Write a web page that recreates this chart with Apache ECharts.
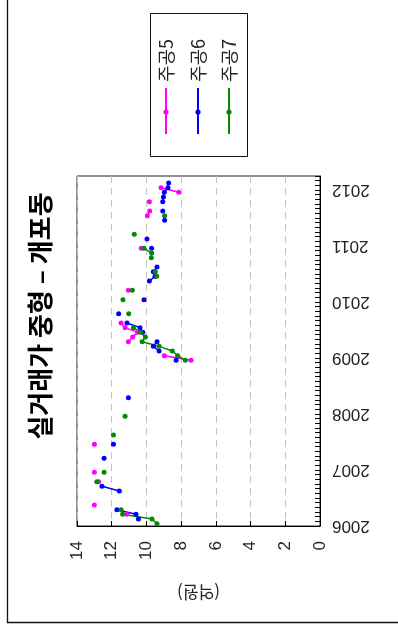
<!DOCTYPE html>
<html><head><meta charset="utf-8">
<script src="https://cdn.jsdelivr.net/npm/echarts@6/dist/echarts.min.js"></script>
<style>html,body{margin:0;padding:0;background:#fff}#c{width:398px;height:628px}</style>
</head><body><div id="c"></div>
<script>
const titleText = '실거래가 중형 – 개포동';
const valueAxisName = '(억원)';
const seriesNames = ['주공5', '주공6', '주공7'];
const seriesColors = ['#FF00FF', '#0000FF', '#008B00'];
const startYear = 2006;
const yearLabels = ['2006', '2007', '2008', '2009', '2010', '2011', '2012'];
const valueTicks = [0, 2, 4, 6, 8, 10, 12, 14];

const jugong5Months = ['2006-03','2006-05','2006-10','2006-12','2007-06','2008-12','2009-01','2009-04','2009-05','2009-06','2009-07','2009-08','2010-03','2010-06','2010-12','2011-07','2011-08','2011-10','2011-12','2012-01'];
const jugong5Values = [11.14,13.0,12.75,13.0,13.0,7.43,8.97,11.04,10.79,10.5,11.23,11.46,11.04,9.49,10.3,9.95,9.81,9.83,8.14,9.16];

const jugong6Months = ['2006-02','2006-03','2006-04','2006-08','2006-09','2007-03','2007-06','2008-04','2008-12','2009-02','2009-03','2009-04','2009-06','2009-07','2009-08','2009-10','2010-01','2010-05','2010-06','2010-07','2010-08','2010-12','2011-02','2011-06','2011-08','2011-10','2011-11','2011-12','2012-01','2012-02'];
const jugong6Values = [10.46,10.6,11.7,11.56,12.56,12.44,11.9,11.04,8.29,9.27,9.6,9.39,10.21,10.37,11.12,11.6,10.14,9.83,9.5,9.6,9.39,9.7,9.97,8.95,9.06,9.06,9.02,8.97,8.76,8.72];

const jugong7Months = ['2006-01','2006-02','2006-03','2006-04','2006-10','2006-12','2007-08','2007-12','2008-12','2009-01','2009-02','2009-03','2009-04','2009-05','2009-06','2009-07','2009-10','2010-01','2010-03','2010-06','2010-07','2010-10','2010-11','2010-12','2011-03','2011-07'];
const jugong7Values = [9.39,9.68,11.37,11.46,12.86,12.44,11.9,11.23,7.76,8.2,8.51,9.27,10.25,10.06,10.35,10.75,11.02,11.35,10.81,9.41,9.49,9.72,9.7,10.14,10.7,8.95];

const totalMonths = 75; // Jan 2006 .. Mar 2012

function monthIndex(s) {
  const [y, m] = s.split('-').map(Number);
  return (y - startYear) * 12 + (m - 1);
}
function buildSeries(months, values) {
  const map = {};
  months.forEach((mo, i) => { map[monthIndex(mo)] = values[i]; });
  const out = [];
  for (let i = 0; i < totalMonths - 1; i++) {
    out.push([map[i] !== undefined ? map[i] : null, i + 0.5]);
  }
  return out;
}
const allMonths = [jugong5Months, jugong6Months, jugong7Months];
const allValues = [jugong5Values, jugong6Values, jugong7Values];

const chart = echarts.init(document.getElementById('c'), null, {renderer: 'canvas'});
const labelFont = '"Liberation Sans", Arial, "Noto Sans CJK KR", sans-serif';

const legendX = [166, 198, 229];
const legendItems = [];
seriesNames.forEach((n, i) => {
  legendItems.push({type: 'line', shape: {x1: legendX[i], y1: 88, x2: legendX[i], y2: 134}, style: {stroke: seriesColors[i], lineWidth: 2}});
  legendItems.push({type: 'circle', shape: {cx: legendX[i], cy: 112, r: 2.6}, style: {fill: seriesColors[i]}});
  legendItems.push({type: 'text', x: legendX[i], y: 82, rotation: Math.PI / 2,
    style: {text: n, fill: '#222', font: '18px "Noto Sans CJK KR", sans-serif', align: 'left', verticalAlign: 'middle'}});
});

chart.setOption({
  animation: false,
  backgroundColor: '#fff',
  grid: {left: 77, right: 78, top: 176, bottom: 102, show: true, borderColor: '#222', borderWidth: 1, outerBoundsMode: 'none', containLabel: false},
  xAxis: {
    type: 'value', min: valueTicks[0], max: valueTicks[valueTicks.length - 1], interval: 2, inverse: true, position: 'bottom',
    axisLine: {show: true, lineStyle: {color: '#000'}},
    axisTick: {show: true, inside: true, length: 5, lineStyle: {color: '#000'}},
    axisLabel: {rotate: 90, margin: 15, fontSize: 17, color: '#222', fontFamily: labelFont},
    splitLine: {show: true, lineStyle: {color: '#C4C4C4', type: [7, 5], width: 1}},
    name: valueAxisName, nameLocation: 'middle', nameGap: 58, nameRotate: 180,
    nameTextStyle: {fontSize: 17, color: '#222', fontFamily: '"Noto Sans CJK KR", sans-serif'}
  },
  yAxis: {
    type: 'value', min: 0, max: totalMonths, interval: 1, position: 'right',
    axisLine: {show: true, lineStyle: {color: '#000'}},
    axisTick: {show: true, inside: true, length: 5, lineStyle: {color: '#000'}},
    axisLabel: {rotate: 180, margin: 12, fontSize: 17, color: '#222', fontFamily: labelFont,
      formatter: v => (v % 12 === 0 && yearLabels[v / 12]) ? yearLabels[v / 12] : ''},
    splitLine: {show: false}
  },
  series: seriesNames.map((n, i) => ({
    name: n, type: 'line', data: buildSeries(allMonths[i], allValues[i]),
    connectNulls: false, symbol: 'circle', symbolSize: 5, showSymbol: true,
    itemStyle: {color: seriesColors[i]}, lineStyle: {color: seriesColors[i], width: 1.5}
  })),
  graphic: [
    {type: 'rect', shape: {x: 7.5, y: -10, width: 420, height: 632.5}, style: {fill: 'none', stroke: '#111', lineWidth: 1.3}, silent: true},
    {type: 'text', x: 40, y: 316, rotation: Math.PI / 2,
      style: {text: titleText, fill: '#000', font: 'bold 26px "Noto Sans CJK KR", sans-serif', align: 'center', verticalAlign: 'middle'}},
    {type: 'rect', shape: {x: 150.5, y: 13.5, width: 97, height: 143}, style: {fill: '#fff', stroke: '#111', lineWidth: 1}},
    ...legendItems
  ]
});
</script></body></html>
